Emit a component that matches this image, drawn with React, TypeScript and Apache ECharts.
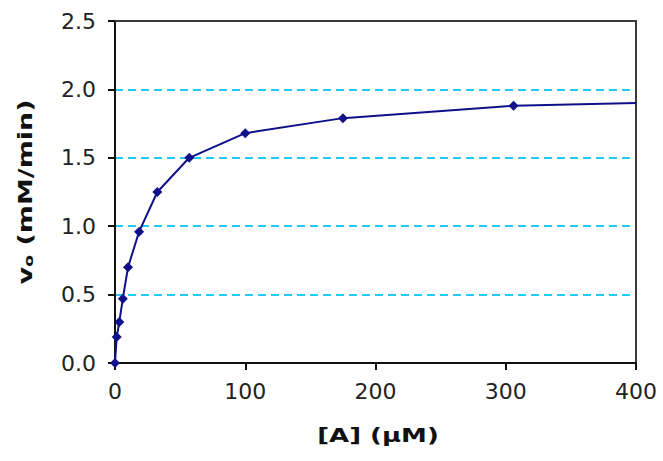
import React, { useEffect, useRef } from "react";
import * as echarts from "echarts";

const concentrations = [0, 1.3, 3.3, 6, 10, 18.5, 32.5, 57, 100, 175, 306, 400];
const velocities = [0, 0.19, 0.3, 0.47, 0.7, 0.96, 1.25, 1.5, 1.68, 1.79, 1.88, 1.9];
// last point is the end of the drawn curve, without a marker
const markerShown = [true, true, true, true, true, true, true, true, true, true, true, false];

const xTicks = [0, 100, 200, 300, 400];
const yTicks = [0, 0.5, 1.0, 1.5, 2.0, 2.5];

const xTitle = "[A] (µM)";
const yTitle = "v{s|o} (mM/min)";

const FONT = "'DejaVu Sans', Verdana, sans-serif";

export default function App() {
  const ref = useRef<HTMLDivElement>(null);
  useEffect(() => {
    if (!ref.current) return;
    const chart = echarts.init(ref.current, null, { renderer: "svg" });
    const data = concentrations.map((c, i) => ({
      value: [c, velocities[i]],
      symbol: markerShown[i] ? "diamond" : "none",
    }));
    const frameAxis = {
      type: "value",
      axisLine: { show: true, onZero: false, lineStyle: { color: "#3a3a3a", width: 2 } },
      axisTick: { show: false },
      axisLabel: { show: false },
      splitLine: { show: false },
    };
    chart.setOption({
      animation: false,
      backgroundColor: "#ffffff",
      grid: { left: 115, right: 27, top: 21, bottom: 98, show: false },
      xAxis: [
        {
          type: "value",
          min: xTicks[0],
          max: xTicks[xTicks.length - 1],
          interval: 100,
          axisLine: { show: true, onZero: false, lineStyle: { color: "#111", width: 2 } },
          axisTick: { show: true, inside: false, length: 7, lineStyle: { color: "#111", width: 2 } },
          axisLabel: { color: "#222", fontSize: 22, fontFamily: FONT, margin: 17 },
          splitLine: { show: false },
        },
        { ...frameAxis, position: "top", min: xTicks[0], max: xTicks[xTicks.length - 1] },
      ],
      yAxis: [
        {
          type: "value",
          min: yTicks[0],
          max: yTicks[yTicks.length - 1],
          interval: 0.5,
          axisLine: { show: true, onZero: false, lineStyle: { color: "#111", width: 2 } },
          axisTick: { show: true, inside: false, length: 7, lineStyle: { color: "#111", width: 2 } },
          axisLabel: {
            color: "#222",
            fontSize: 22,
            fontFamily: FONT,
            margin: 19,
            formatter: (v: number) => v.toFixed(1),
          },
          splitLine: {
            show: true,
            lineStyle: { color: "#22ccf5", width: 2, type: [8, 5] },
          },
        },
        { ...frameAxis, position: "right", min: yTicks[0], max: yTicks[yTicks.length - 1] },
      ],
      graphic: [
        {
          type: "text",
          x: 378,
          y: 435,
          scaleX: 1.3,
          style: {
            text: xTitle,
            fontSize: 20,
            fontWeight: "bold",
            fontFamily: FONT,
            fill: "#111",
            align: "center",
            verticalAlign: "middle",
          },
        },
        {
          type: "text",
          x: 25,
          y: 192,
          rotation: Math.PI / 2,
          scaleX: 1.35,
          style: {
            text: yTitle,
            fontSize: 20,
            fontWeight: "bold",
            fontFamily: FONT,
            fill: "#111",
            align: "center",
            verticalAlign: "middle",
            rich: {
              s: {
                fontSize: 13,
                fontWeight: "bold",
                fontFamily: FONT,
                fill: "#111",
                verticalAlign: "bottom",
                padding: [6, 0, 0, 0],
              },
            },
          },
        },
      ],
      series: [
        {
          type: "line",
          xAxisIndex: 0,
          yAxisIndex: 0,
          data,
          smooth: false,
          symbolSize: 10,
          lineStyle: { color: "#10108a", width: 2 },
          itemStyle: { color: "#10108a" },
          z: 5,
        },
      ],
    });
    return () => chart.dispose();
  }, []);
  return (
    <div
      ref={ref}
      style={{ position: "fixed", left: 0, top: 0, width: 663, height: 461 }}
    />
  );
}
